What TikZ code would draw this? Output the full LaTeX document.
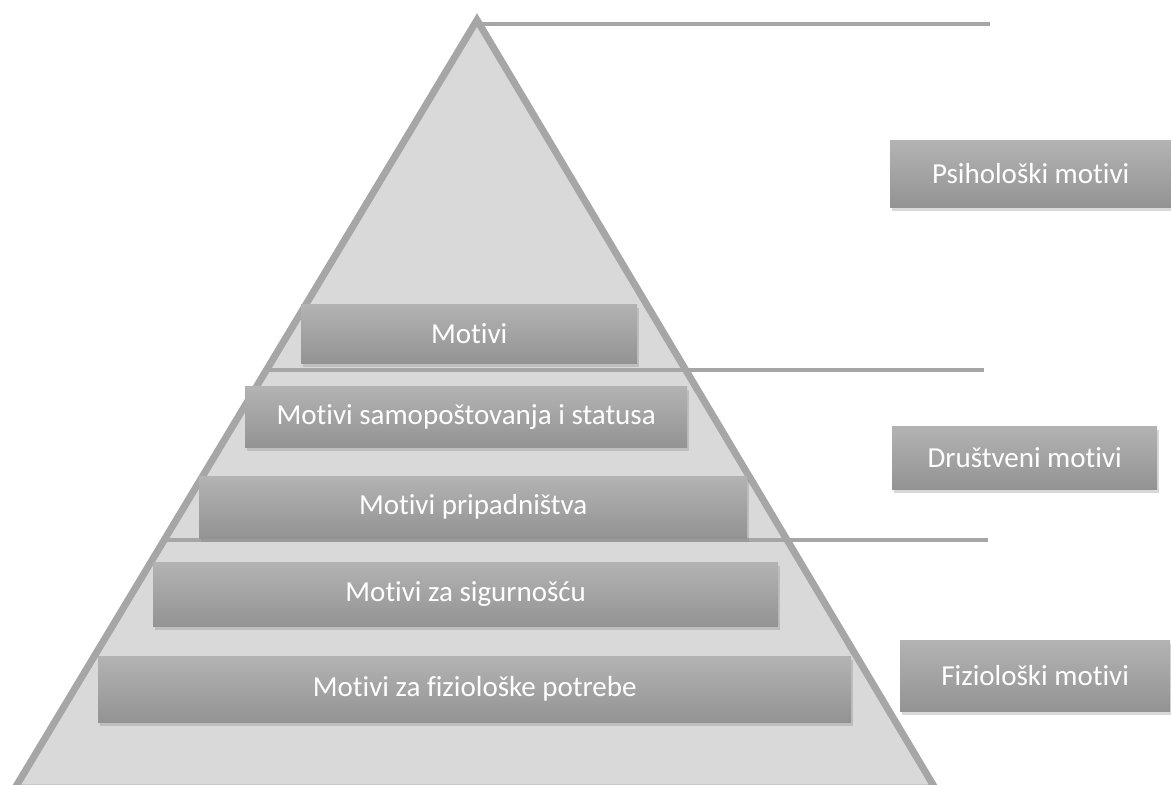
\documentclass[tikz,border=0pt]{standalone}
\usepackage{fontspec}
\setmainfont{Carlito}[Ligatures=NoCommon]
\usetikzlibrary{shadows}
\definecolor{pyrfill}{HTML}{D9D9D9}
\definecolor{pyrline}{HTML}{A6A6A6}
\definecolor{boxtop}{HTML}{B3B3B3}
\definecolor{boxbot}{HTML}{939393}

\begin{document}
\begin{tikzpicture}[x=1pt,y=-1pt]
    \tikzstyle{divider} = [draw=pyrline, line width=3.5pt]
    \tikzstyle{rec} = [rectangle, top color=boxtop, bottom color=boxbot,
        text=white, align=center, inner sep=0pt,
        font=\fontsize{29}{34}\selectfont,
        drop shadow={shadow xshift=1.5pt, shadow yshift=-4pt, opacity=0.3}]

    \useasboundingbox (0,0) rectangle (1171,785);

    % pyramid and level lines
    \draw[draw=pyrline, fill=pyrfill, line width=7pt]
        (477,20) -- (935,788) -- (15,788) -- cycle;
    \draw[divider] (477,24) -- (990,24);
    \draw[divider] (266,370) -- (984,370);
    \draw[divider] (164,540) -- (988,540);

    \node(motivi) [rec, minimum width=336pt, minimum height=59pt]
        at (301,304) [anchor=north west]
        {Motivi};

    \node(samopostovanje) [rec, minimum width=442pt, minimum height=61pt]
        at (245,386) [anchor=north west]
        {Motivi samopoštovanja i statusa};

    \node(pripadnistvo) [rec, minimum width=548pt, minimum height=62pt]
        at (199,476) [anchor=north west]
        {Motivi pripadništva};

    \node(sigurnost) [rec, minimum width=625pt, minimum height=64pt]
        at (153,562) [anchor=north west]
        {Motivi za sigurnošću};

    \node(fiziologija) [rec, minimum width=753pt, minimum height=66pt]
        at (98,656) [anchor=north west]
        {Motivi za fiziološke potrebe};

    \node(psiholoski) [rec, minimum width=281pt, minimum height=67pt]
        at (890,140) [anchor=north west]
        {Psihološki motivi};

    \node(drustveni) [rec, minimum width=265pt, minimum height=63pt]
        at (892,426) [anchor=north west]
        {Društveni motivi};

    \node(fizioloski) [rec, minimum width=270pt, minimum height=71pt]
        at (900,640) [anchor=north west]
        {Fiziološki motivi};
\end{tikzpicture}
\end{document}
